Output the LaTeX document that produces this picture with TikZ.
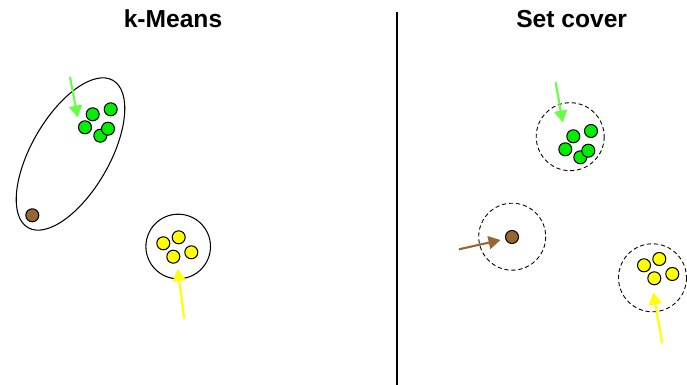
\documentclass[tikz,border=0pt]{standalone}
\usepackage{fontspec}
\setmainfont{Liberation Sans}
\usetikzlibrary{arrows.meta}
\definecolor{DotGreen}{RGB}{0,238,0}
\definecolor{PointerGreen}{RGB}{102,255,68}
\definecolor{DotBrown}{RGB}{153,102,51}
\definecolor{DotYellow}{RGB}{255,255,0}

\begin{document}
\begin{tikzpicture}[x=0.02cm, y=-0.02cm, >={Triangle[length=6.8pt,width=7.4pt]},
    dot/.style={circle, draw, line width=0.6pt, inner sep=0pt, minimum size=0.26cm},
    pointer/.style={->, line width=1.2pt},
    cover/.style={draw, line width=0.5pt, dash pattern=on 2.4pt off 1.6pt},
    title/.style={anchor=base, font=\fontsize{14}{16}\selectfont\bfseries}]

    \useasboundingbox (0,0) rectangle (687,385);

    \node[title] (kmeans) at (173,27.3) {k-Means};
    \node[title] (setcover) at (571.7,27.3) {Set cover};
    \coordinate (divtop) at (397,12);
    \coordinate (divbot) at (397,385);
    \draw[line width=0.6pt] (divtop) -- (divbot);

    % k-Means clusters
    \coordinate (kcluster) at (70.5,154);
    \draw[line width=0.6pt, rotate around={60:(kcluster)}] (kcluster) ellipse [x radius=85, y radius=39];
    \draw[line width=0.6pt] (178.2,246.5) circle [radius=32.3];

    \node[dot, fill=DotGreen] (kg1) at (92.7,114.3) {};
    \node[dot, fill=DotGreen] (kg2) at (110.7,109.3) {};
    \node[dot, fill=DotGreen] (kg3) at (85,127.3) {};
    \node[dot, fill=DotGreen] (kg4) at (100.3,135.7) {};
    \node[dot, fill=DotGreen] (kg5) at (108,128.7) {};
    \node[dot, fill=DotBrown] (kb) at (32.3,215.3) {};
    \node[dot, fill=DotYellow] (ky1) at (163.3,243.3) {};
    \node[dot, fill=DotYellow] (ky2) at (178.7,237.3) {};
    \node[dot, fill=DotYellow] (ky3) at (173.3,256.7) {};
    \node[dot, fill=DotYellow] (ky4) at (191.3,252.3) {};

    \coordinate (kgfrom) at (70,77);
    \coordinate (kgto) at (77.7,117.5);
    \coordinate (kyfrom) at (184.3,319);
    \coordinate (kyto) at (177.7,269);
    \draw[pointer, PointerGreen] (kgfrom) -- (kgto);
    \draw[pointer, DotYellow] (kyfrom) -- (kyto);

    % Set cover balls
    \draw[cover] (570.2,136.7) circle [radius=34];
    \draw[cover] (512.2,236.7) circle [radius=33.5];
    \draw[cover] (652.5,277.8) circle [radius=34];

    \node[dot, fill=DotGreen] (sg1) at (573.3,136.3) {};
    \node[dot, fill=DotGreen] (sg2) at (591,131) {};
    \node[dot, fill=DotGreen] (sg3) at (565.3,149.3) {};
    \node[dot, fill=DotGreen] (sg4) at (580.3,157.3) {};
    \node[dot, fill=DotGreen] (sg5) at (588.3,150.7) {};
    \node[dot, fill=DotBrown] (sb) at (512,237) {};
    \node[dot, fill=DotYellow] (sy1) at (644,265.3) {};
    \node[dot, fill=DotYellow] (sy2) at (659.3,259) {};
    \node[dot, fill=DotYellow] (sy3) at (654.3,278.3) {};
    \node[dot, fill=DotYellow] (sy4) at (672.3,274) {};

    \coordinate (sgfrom) at (555.7,82.3);
    \coordinate (sgto) at (562.7,122.5);
    \coordinate (sbfrom) at (459,249.3);
    \coordinate (sbto) at (500.5,240);
    \coordinate (syfrom) at (662.3,343.5);
    \coordinate (syto) at (653.3,292.5);
    \draw[pointer, PointerGreen] (sgfrom) -- (sgto);
    \draw[pointer, DotBrown] (sbfrom) -- (sbto);
    \draw[pointer, DotYellow] (syfrom) -- (syto);
\end{tikzpicture}
\end{document}
